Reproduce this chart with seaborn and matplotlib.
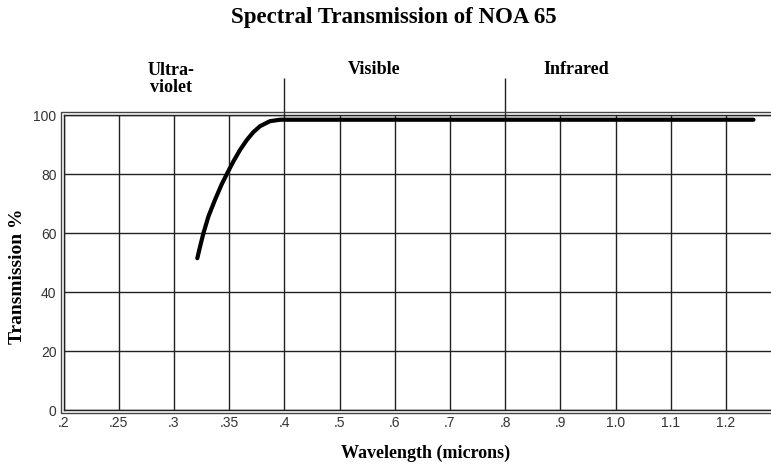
import numpy as np
import matplotlib
matplotlib.use("Agg")
import matplotlib.pyplot as plt
import seaborn as sns
import pandas as pd
from matplotlib.patches import Rectangle

# ---- data ----
tick_values = [0.2, 0.25, 0.3, 0.35, 0.4, 0.5, 0.6, 0.7, 0.8, 0.9, 1.0, 1.1, 1.2]
tick_labels = [".2", ".25", ".3", ".35", ".4", ".5", ".6", ".7", ".8", ".9", "1.0", "1.1", "1.2"]
wavelength = [0.3212, 0.3236, 0.3266, 0.3312, 0.3372, 0.3433, 0.3480, 0.3538,
              0.3600, 0.3660, 0.3720, 0.3780, 0.3870, 0.3961, 0.4050, 0.45, 0.6,
              0.8, 1.0, 1.2, 1.25]
transmission = [51.5, 55.3, 59.8, 65.6, 71.3, 76.6, 80.1, 84.3,
                88.3, 91.6, 94.3, 96.3, 98.0, 98.5, 98.5, 98.5, 98.5,
                98.5, 98.5, 98.5, 98.5]
regions = ["Ultra-\nviolet", "Visible", "Infrared"]
y_ticks = [0, 20, 40, 60, 80, 100]

df = pd.DataFrame({"Wavelength": wavelength, "Transmission": transmission})

sns.set_style("white")
plt.rcParams["font.family"] = ["Liberation Sans", "DejaVu Sans"]

W, H = 771, 469
fig = plt.figure(figsize=(W / 100, H / 100), dpi=100)

# axes placement in pixels
left_px, bottom_px, top_px = 63.5, 410.0, 115.3
step_px = 55.2
n_idx = 13.2
right_px = left_px + n_idx * step_px
ax = fig.add_axes([left_px / W, 1 - bottom_px / H,
                   (right_px - left_px) / W, (bottom_px - top_px) / H])

# piecewise scale: each tick equally spaced
map_x = np.array(tick_values + [1.3, 1.4, 2.0])
map_i = np.array(list(range(len(tick_values))) + [13, 14, 20], dtype=float)

def fwd(x):
    return np.interp(x, map_x, map_i)

def inv(i):
    return np.interp(i, map_i, map_x)

ax.set_xscale("function", functions=(fwd, inv))
ax.set_xlim(0.2, inv(n_idx))
ax.set_ylim(0, 100)

sns.lineplot(data=df, x="Wavelength", y="Transmission", ax=ax, color="black",
             linewidth=3.0, sort=True, zorder=5)
ax.lines[-1].set_solid_capstyle("round")
ax.lines[-1].set_solid_joinstyle("round")

ax.set_xticks(tick_values)
ax.set_xticklabels(tick_labels)
ax.set_yticks(y_ticks)
ax.set_yticklabels([str(v) for v in y_ticks])
ax.tick_params(axis="both", length=0, labelsize=10, labelcolor="#333333")
ax.tick_params(axis="x", pad=4)
ax.tick_params(axis="y", pad=5)
ax.grid(True, color="#222222", linewidth=1.0)
for s in ax.spines.values():
    s.set_color("#222222")
    s.set_linewidth(1.0)
ax.set_xlabel("")
ax.set_ylabel("")

# outer frame of double border
off = 3.0
fig.patches.append(Rectangle(((left_px - off) / W, 1 - (bottom_px + off) / H),
                             (right_px + 10 - left_px) / W,
                             (bottom_px - top_px + 2 * off) / H,
                             transform=fig.transFigure, fill=False,
                             edgecolor="#444444", linewidth=1.0))

# region dividers above the plot
div_top_px = 78
y_top = 100 + (top_px - div_top_px) / ((bottom_px - top_px) / 100)
ax.vlines([0.4, 0.8], 100, y_top, colors="#222222", linewidth=1.0, clip_on=False)

serif = ["Liberation Serif", "DejaVu Serif"]
fig.text(171 / W, 1 - 79 / H, regions[0], ha="center", va="center", color="black",
         fontsize=13, fontweight="bold", family=serif, linespacing=1.05)
fig.text(374 / W, 1 - 70 / H, regions[1], ha="center", va="center", color="black",
         fontsize=13, fontweight="bold", family=serif)
fig.text(576 / W, 1 - 70 / H, regions[2], ha="center", va="center", color="black",
         fontsize=13, fontweight="bold", family=serif)

fig.text(394 / W, 1 - 18 / H, "Spectral Transmission of NOA 65", ha="center",
         va="center", fontsize=16.5, fontweight="bold", family=serif, color="black")
fig.text(426 / W, 1 - 453 / H, "Wavelength (microns)", ha="center", va="center",
         fontsize=13, fontweight="bold", family=serif, color="black")
fig.text(18 / W, 1 - 276 / H, "Transmission %", ha="center", va="center",
         rotation=90, fontsize=14, fontweight="bold", family=serif, color="black")

fig.savefig("out.png", dpi=100)
